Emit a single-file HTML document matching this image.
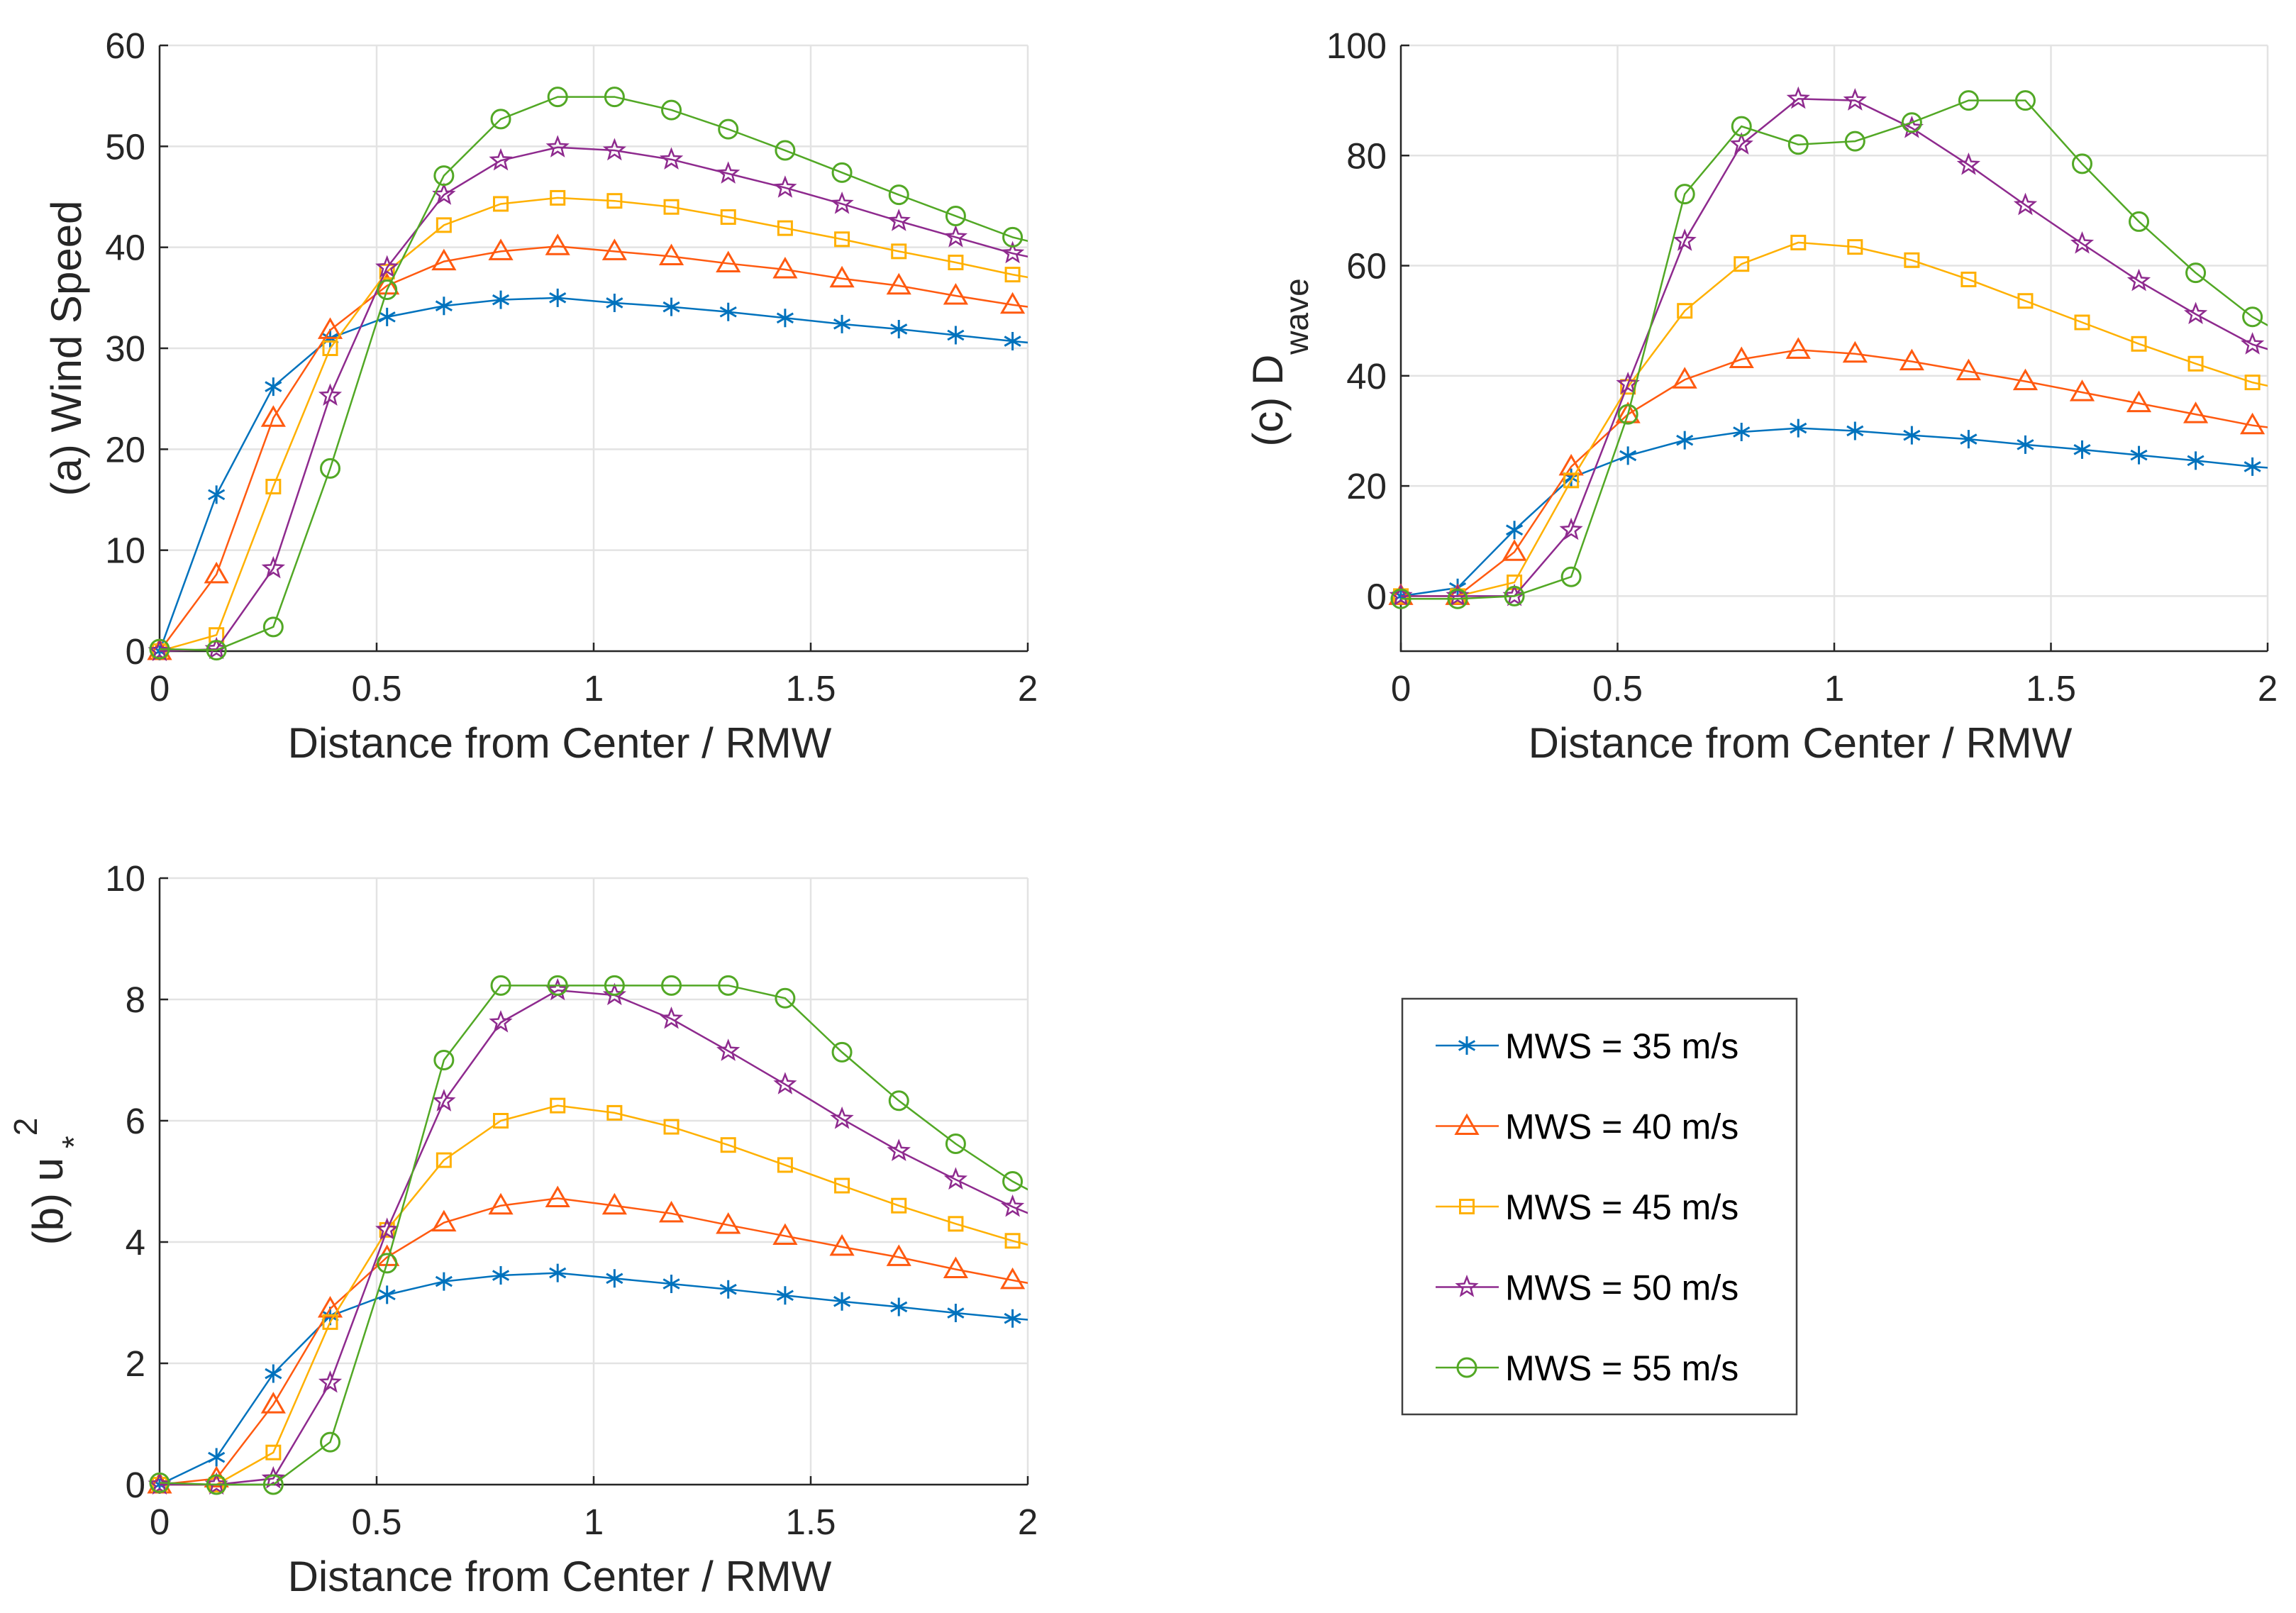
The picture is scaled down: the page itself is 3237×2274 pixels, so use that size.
<!DOCTYPE html>
<html><head><meta charset="utf-8">
<style>
html,body{margin:0;padding:0;background:#fff;}
svg{display:block;font-family:"Liberation Sans",sans-serif;}
</style></head>
<body>
<svg id="fig" width="3237" height="2274" viewBox="0 0 3237 2274" xmlns="http://www.w3.org/2000/svg"></svg>
<script>
// shared x categories (Distance / RMW)
const xStep = 0.131;
const nPts = 17;
const seriesNames = ["MWS = 35 m/s","MWS = 40 m/s","MWS = 45 m/s","MWS = 50 m/s","MWS = 55 m/s"];
// (a) Wind Speed
const windS35 = [0,15.5,26.2,31,33.1,34.2,34.8,35,34.5,34.1,33.6,33,32.4,31.9,31.3,30.7,30.2];
const windS40 = [0,7.6,23.1,31.8,36.2,38.6,39.6,40.1,39.6,39.1,38.4,37.8,36.9,36.2,35.2,34.3,33.6];
const windS45 = [0,1.6,16.3,30,37.6,42.2,44.3,44.9,44.6,44,43,41.9,40.8,39.6,38.5,37.3,36.3];
const windS50 = [0,0.2,8.2,25.3,38,45.2,48.6,49.9,49.6,48.7,47.3,45.9,44.3,42.6,41,39.4,38.2];
const windS55 = [0.2,0.1,2.4,18.1,35.8,47.1,52.7,54.9,54.9,53.6,51.7,49.6,47.4,45.2,43.1,41,39.6];
// (c) D_wave
const dwave35 = [0,1.5,12,21.5,25.5,28.3,29.8,30.5,30,29.2,28.5,27.5,26.6,25.6,24.6,23.5,22.8];
const dwave40 = [0,0,8,23.5,33,39.3,43,44.7,44,42.6,40.8,39,37,35,33,31,29.7];
const dwave45 = [0,0,2.5,21,38,51.8,60.3,64.2,63.4,61,57.5,53.6,49.7,45.8,42.2,38.8,36.5];
const dwave50 = [0,0,0,12,38.5,64.5,82,90.3,90,85,78.3,71,64,57.2,51.2,45.7,42.5];
const dwave55 = [-0.5,-0.5,0,3.5,33,73,85.3,82,82.6,86,90,90,78.5,68,58.7,50.7,45];
// (b) u*^2
const ustar35 = [0,0.45,1.83,2.78,3.13,3.35,3.45,3.49,3.4,3.31,3.22,3.12,3.02,2.93,2.83,2.74,2.66];
const ustar40 = [0,0.1,1.32,2.9,3.75,4.32,4.6,4.72,4.6,4.47,4.28,4.1,3.92,3.75,3.55,3.37,3.2];
const ustar45 = [0,0,0.53,2.68,4.2,5.35,6,6.25,6.13,5.9,5.6,5.27,4.93,4.6,4.3,4.02,3.78];
const ustar50 = [0,0,0.1,1.68,4.2,6.32,7.62,8.15,8.07,7.68,7.15,6.6,6.03,5.5,5.03,4.58,4.2];
const ustar55 = [0.03,0,0,0.7,3.65,7,8.23,8.23,8.23,8.23,8.23,8.02,7.13,6.33,5.62,5,4.5];
const xTicks = [0,0.5,1,1.5,2];
const xTickLabels = ["0","0.5","1","1.5","2"];
const yTicksA = [0,10,20,30,40,50,60];
const yTicksC = [0,20,40,60,80,100];
const yTicksB = [0,2,4,6,8,10];

const colors = ["#0072BD","#FF5A10","#FFB000","#8E2A8E","#52A825"];
const markers = ["asterisk","triangle","square","star","circle"];
const NS = "http://www.w3.org/2000/svg";
const svg = document.getElementById("fig");
function el(tag, attrs, parent){
  const e = document.createElementNS(NS, tag);
  for (const k in attrs) e.setAttribute(k, attrs[k]);
  (parent||svg).appendChild(e);
  return e;
}
function markerShape(type, cx, cy, col, g){
  const s = 13; let m;
  if (type==="asterisk"){
    m = el("path",{d:`M${cx},${cy-s}V${cy+s}M${cx-s*0.87},${cy-s*0.5}L${cx+s*0.87},${cy+s*0.5}M${cx-s*0.87},${cy+s*0.5}L${cx+s*0.87},${cy-s*0.5}`,stroke:col,"stroke-width":3,fill:"none"},g);
  } else if (type==="triangle"){
    m = el("path",{d:`M${cx},${cy-15}L${cx+15},${cy+11}L${cx-15},${cy+11}Z`,stroke:col,"stroke-width":3,fill:"none"},g);
  } else if (type==="square"){
    m = el("rect",{x:cx-9.5,y:cy-9.5,width:19,height:19,stroke:col,"stroke-width":3,fill:"none"},g);
  } else if (type==="star"){
    let d=""; for(let i=0;i<10;i++){const r=i%2?6:14;const a=-Math.PI/2+i*Math.PI/5;d+=(i?"L":"M")+(cx+r*Math.cos(a)).toFixed(1)+","+(cy+r*Math.sin(a)).toFixed(1);} d+="Z";
    m = el("path",{d:d,stroke:col,"stroke-width":2.5,fill:"none"},g);
  } else {
    m = el("circle",{cx:cx,cy:cy,r:13,stroke:col,"stroke-width":3,fill:"none"},g);
  }
  
  
}

function panel(opt){
  const g = el("g",{});
  
  
  const {L,R,T,B,ymin,ymax} = opt;
  const sx = v => L + (v-0)/(2-0)*(R-L);
  const sy = v => B - (v-ymin)/(ymax-ymin)*(B-T);
  xTicks.forEach(t=>{ const l=el("line",{x1:sx(t),x2:sx(t),y1:T,y2:B,stroke:"#e3e3e3","stroke-width":2.5},g);
      });
  opt.yTicks.forEach(t=>{ const l=el("line",{x1:L,x2:R,y1:sy(t),y2:sy(t),stroke:"#e3e3e3","stroke-width":2.5},g);
      });
  const ax = el("path",{d:`M${L},${T}V${B}H${R}`,stroke:"#262626","stroke-width":2.5,fill:"none"},g);
   
  xTicks.forEach((t,i)=>{
    el("line",{x1:sx(t),x2:sx(t),y1:B,y2:B-12,stroke:"#262626","stroke-width":2.5},g);
    const tx = el("text",{x:sx(t),y:B+70,"font-size":51,fill:"#262626","text-anchor":"middle"},g);
    tx.textContent = xTickLabels[i];
     
  });
  opt.yTicks.forEach(t=>{
    el("line",{x1:L,x2:L+12,y1:sy(t),y2:sy(t),stroke:"#262626","stroke-width":2.5},g);
    const tx = el("text",{x:L-20,y:sy(t)+18,"font-size":51,fill:"#262626","text-anchor":"end"},g);
    tx.textContent = String(t);
     
  });
  const cid = "clip-"+opt.name;
  const sg = el("g",{},g);
  opt.series.forEach((vals,si)=>{
    const col = colors[si];
    const sgi = el("g",{},sg);
    
    
    const pts = vals.map((v,i)=>[sx(i*xStep), sy(v)]);
    const clipL = el("clipPath",{id:cid+"l"+si},g); el("rect",{x:L-20,y:0,width:R-L+20,height:3000},clipL);
    const pl = el("polyline",{points:pts.map(p=>p.join(",")).join(" "),stroke:col,"stroke-width":2.5,fill:"none","clip-path":`url(#${cid}l${si})`},sgi);
     
    pts.forEach((p,i)=>{ if (i*xStep<=2) markerShape(markers[si],p[0],p[1],col,sgi); });
  });
  const xl = el("text",{x:(L+R)/2-48,y:B+150,"font-size":60,fill:"#262626","text-anchor":"middle"},g);
  xl.textContent = "Distance from Center / RMW";
   
  const yl = el("text",{transform:`translate(${opt.ylx},${(T+B)/2+opt.yly}) rotate(-90)`,"font-size":60,fill:"#262626","text-anchor":"middle"},g);
  yl.innerHTML = opt.ylabel;
   
}

panel({name:"panel-a-wind-speed",L:225,R:1449,T:64,B:918,ymin:0,ymax:60,yTicks:yTicksA,
  series:[windS35,windS40,windS45,windS50,windS55],ylx:114,yly:0,ylabel:"(a) Wind Speed"});
panel({name:"panel-c-dwave",L:1975,R:3197,T:64,B:918,ymin:-10,ymax:100,yTicks:yTicksC,
  series:[dwave35,dwave40,dwave45,dwave50,dwave55],ylx:1808,yly:20,
  ylabel:'(c)  D<tspan font-size="46" dy="36">wave</tspan>'});
panel({name:"panel-b-ustar",L:225,R:1449,T:1238,B:2093,ymin:0,ymax:10,yTicks:yTicksB,
  series:[ustar35,ustar40,ustar45,ustar50,ustar55],ylx:88,yly:0,
  ylabel:'(b) u<tspan font-size="46" dy="32"> *</tspan><tspan font-size="46" dy="-68">2</tspan>'});

const lg = el("g",{});


el("rect",{x:1977,y:1408,width:556,height:586,fill:"#fff",stroke:"#404040","stroke-width":2.5},lg);
seriesNames.forEach((nm,i)=>{
  const y = 1474 + i*113.5;
  const e = el("g",{},lg);
  
  
  el("line",{x1:2024,x2:2113,y1:y,y2:y,stroke:colors[i],"stroke-width":2.5},e);
  markerShape(markers[i],2068,y,colors[i],e);
  const t = el("text",{x:2122,y:y+18,"font-size":50,fill:"#000"},e);
  t.textContent = nm;
  
  
});
</script>
</body></html>
